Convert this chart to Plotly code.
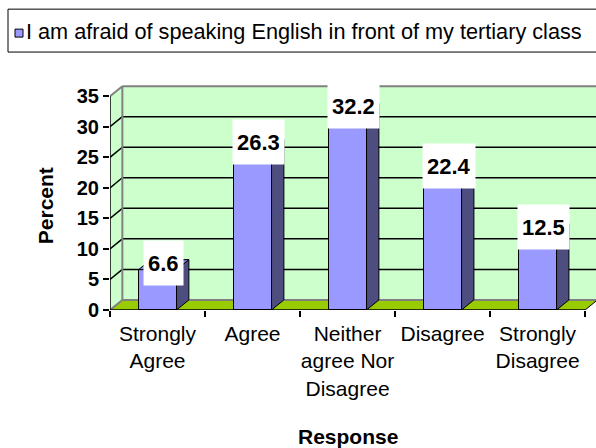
import plotly.graph_objects as go

# ---- data ----
categories = ["Strongly<br>Agree", "Agree", "Neither<br>agree Nor<br>Disagree", "Disagree", "Strongly<br>Disagree"]
percent = [6.6, 26.3, 32.2, 22.4, 12.5]
y_ticks = [0, 5, 10, 15, 20, 25, 30, 35]
series_name = "I am afraid of speaking English in front of my tertiary class"
x_title = "Response"
y_title = "Percent"

# ---- style ----
FONT = "Liberation Sans, Arial, sans-serif"
FRONT = "#9999ff"
SIDE = "#4d4d80"
TOP = "#8080d8"
WALL = "#ccffcc"
FLOOR = "#99cc00"
GRAY = "#808080"
DX = 0.13      # depth offset in category units
DY = 1.65      # depth offset in value units
BW = 0.4       # bar width
XMAX = 4.615
YMAX = 37.66
ytop = y_ticks[-1]

fig = go.Figure()

fig.add_trace(go.Bar(
    x=categories, y=percent, width=BW,
    marker=dict(color=FRONT, line=dict(color="black", width=1)),
    name=series_name, showlegend=False, hoverinfo="skip",
    xaxis="x", yaxis="y",
))

# 3-D side and top faces from the data
for i, v in enumerate(percent):
    r = i + BW / 2
    l = i - BW / 2
    fig.add_trace(go.Scatter(
        x=[r, r + DX, r + DX, r, r], y=[0, DY, v + DY, v, 0],
        fill="toself", fillcolor=SIDE, mode="lines",
        line=dict(color="black", width=1), showlegend=False, hoverinfo="skip",
        xaxis="x2", yaxis="y",
    ))
    fig.add_trace(go.Scatter(
        x=[l, l + DX, r + DX, r, l], y=[v, v + DY, v + DY, v, v],
        fill="toself", fillcolor=TOP, mode="lines",
        line=dict(color="black", width=1), showlegend=False, hoverinfo="skip",
        xaxis="x2", yaxis="y",
    ))

shapes = []
x0 = -0.5
xe = len(categories) - 0.5
# left wall
shapes.append(dict(type="path", xref="x2", yref="y", layer="below",
                   path=f"M {x0},0 L {x0},{ytop} L {x0+DX},{ytop+DY} L {x0+DX},{DY} Z",
                   fillcolor=WALL, line=dict(width=0)))
# back wall
shapes.append(dict(type="rect", xref="x2", yref="y", layer="below",
                   x0=x0 + DX, x1=XMAX + 0.2, y0=DY, y1=ytop + DY,
                   fillcolor=WALL, line=dict(width=0)))
# floor
shapes.append(dict(type="path", xref="x2", yref="y", layer="below",
                   path=f"M {x0},0 L {x0+DX},{DY} L {xe+DX},{DY} L {xe},0 Z",
                   fillcolor=FLOOR, line=dict(width=0)))
# gridlines on the walls
for t in y_ticks[1:-1]:
    shapes.append(dict(type="line", xref="x2", yref="y", layer="below",
                       x0=x0 + DX, x1=XMAX + 0.2, y0=t + DY, y1=t + DY,
                       line=dict(color="black", width=1.5)))
    shapes.append(dict(type="line", xref="x2", yref="y", layer="below",
                       x0=x0, x1=x0 + DX, y0=t, y1=t + DY,
                       line=dict(color="black", width=1.5)))
# gray wall borders
for (a, b, c, d) in [
    (x0 + DX, XMAX + 0.2, ytop + DY, ytop + DY),
    (x0, x0 + DX, ytop, ytop + DY),
    (x0 + DX, x0 + DX, DY, ytop + DY),
    (x0 + DX, xe + DX, DY, DY),
    (x0, x0 + DX, 0, DY),
]:
    shapes.append(dict(type="line", xref="x2", yref="y", layer="below",
                       x0=a, x1=b, y0=c, y1=d, line=dict(color=GRAY, width=2)))
shapes.append(dict(type="line", xref="x2", yref="y", layer="below",
                   x0=xe, x1=xe + DX, y0=0, y1=DY, line=dict(color="black", width=1)))
# axis lines
shapes.append(dict(type="line", xref="x2", yref="y", layer="above",
                   x0=x0, x1=xe, y0=0, y1=0, line=dict(color="black", width=1.5)))
shapes.append(dict(type="line", xref="x2", yref="y", layer="above",
                   x0=x0, x1=x0, y0=0, y1=ytop, line=dict(color="black", width=1.5)))

# legend (drawn manually, clipped on the right like the original)
def px(p):
    return (p - 110) / 486.0

def py(p):
    return (310.5 - p) / 230.5

shapes.append(dict(type="rect", xref="paper", yref="paper",
                   x0=px(8), x1=px(640), y0=py(52), y1=py(9),
                   fillcolor="white", line=dict(color="black", width=1)))
shapes.append(dict(type="rect", xref="paper", yref="paper",
                   x0=px(15), x1=px(23), y0=py(37), y1=py(29),
                   fillcolor=FRONT, line=dict(color="black", width=1)))

annotations = []
annotations.append(dict(xref="paper", yref="paper", x=px(24), y=py(31),
                        xanchor="left", yanchor="middle", showarrow=False,
                        text=series_name, font=dict(family=FONT, size=21.7, color="black")))
# value labels
for i, v in enumerate(percent):
    annotations.append(dict(xref="x2", yref="y", x=i + DX / 2, y=v + DY / 2, yshift=2,
                            text=f"{v}", showarrow=False, bgcolor="white",
                            borderpad=4, height=36, valign="middle",
                            font=dict(family=FONT, size=22, color="black", weight="bold")))
annotations.append(dict(xref="x2", yref="paper", x=2, y=0, yshift=-126.5,
                        yanchor="middle", showarrow=False, text=x_title,
                        font=dict(family=FONT, size=21, color="black", weight="bold")))
annotations.append(dict(xref="paper", yref="y", x=0, xshift=-65, y=17,
                        xanchor="center", yanchor="middle", textangle=-90, showarrow=False,
                        text=y_title,
                        font=dict(family=FONT, size=21, color="black", weight="bold")))

fig.update_layout(
    width=596, height=448,
    margin=dict(l=110, r=0, t=80, b=137.5),
    paper_bgcolor="white", plot_bgcolor="white",
    showlegend=False,
    xaxis=dict(type="category", categoryorder="array", categoryarray=categories,
               range=[-0.5, XMAX], tickson="boundaries", ticks="outside", ticklen=6,
               tickangle=0, ticklabelstandoff=9,
               tickcolor="black", tickwidth=1.5, showgrid=False, showline=False, zeroline=False,
               tickfont=dict(family=FONT, size=21, color="black")),
    xaxis2=dict(overlaying="x", anchor="y", type="linear", range=[-0.5, XMAX], visible=False),
    yaxis=dict(range=[0, YMAX], tickvals=y_ticks, ticks="outside", ticklen=6,
               tickcolor="black", tickwidth=1.5, showgrid=False, showline=False, zeroline=False,
               tickfont=dict(family=FONT, size=20, color="black", weight="bold")),
    shapes=shapes, annotations=annotations,
    bargap=0,
)

fig.write_html("out.html", config={"displayModeBar": False},
               post_script="document.body.style.margin='0';document.body.style.overflow='hidden';")
